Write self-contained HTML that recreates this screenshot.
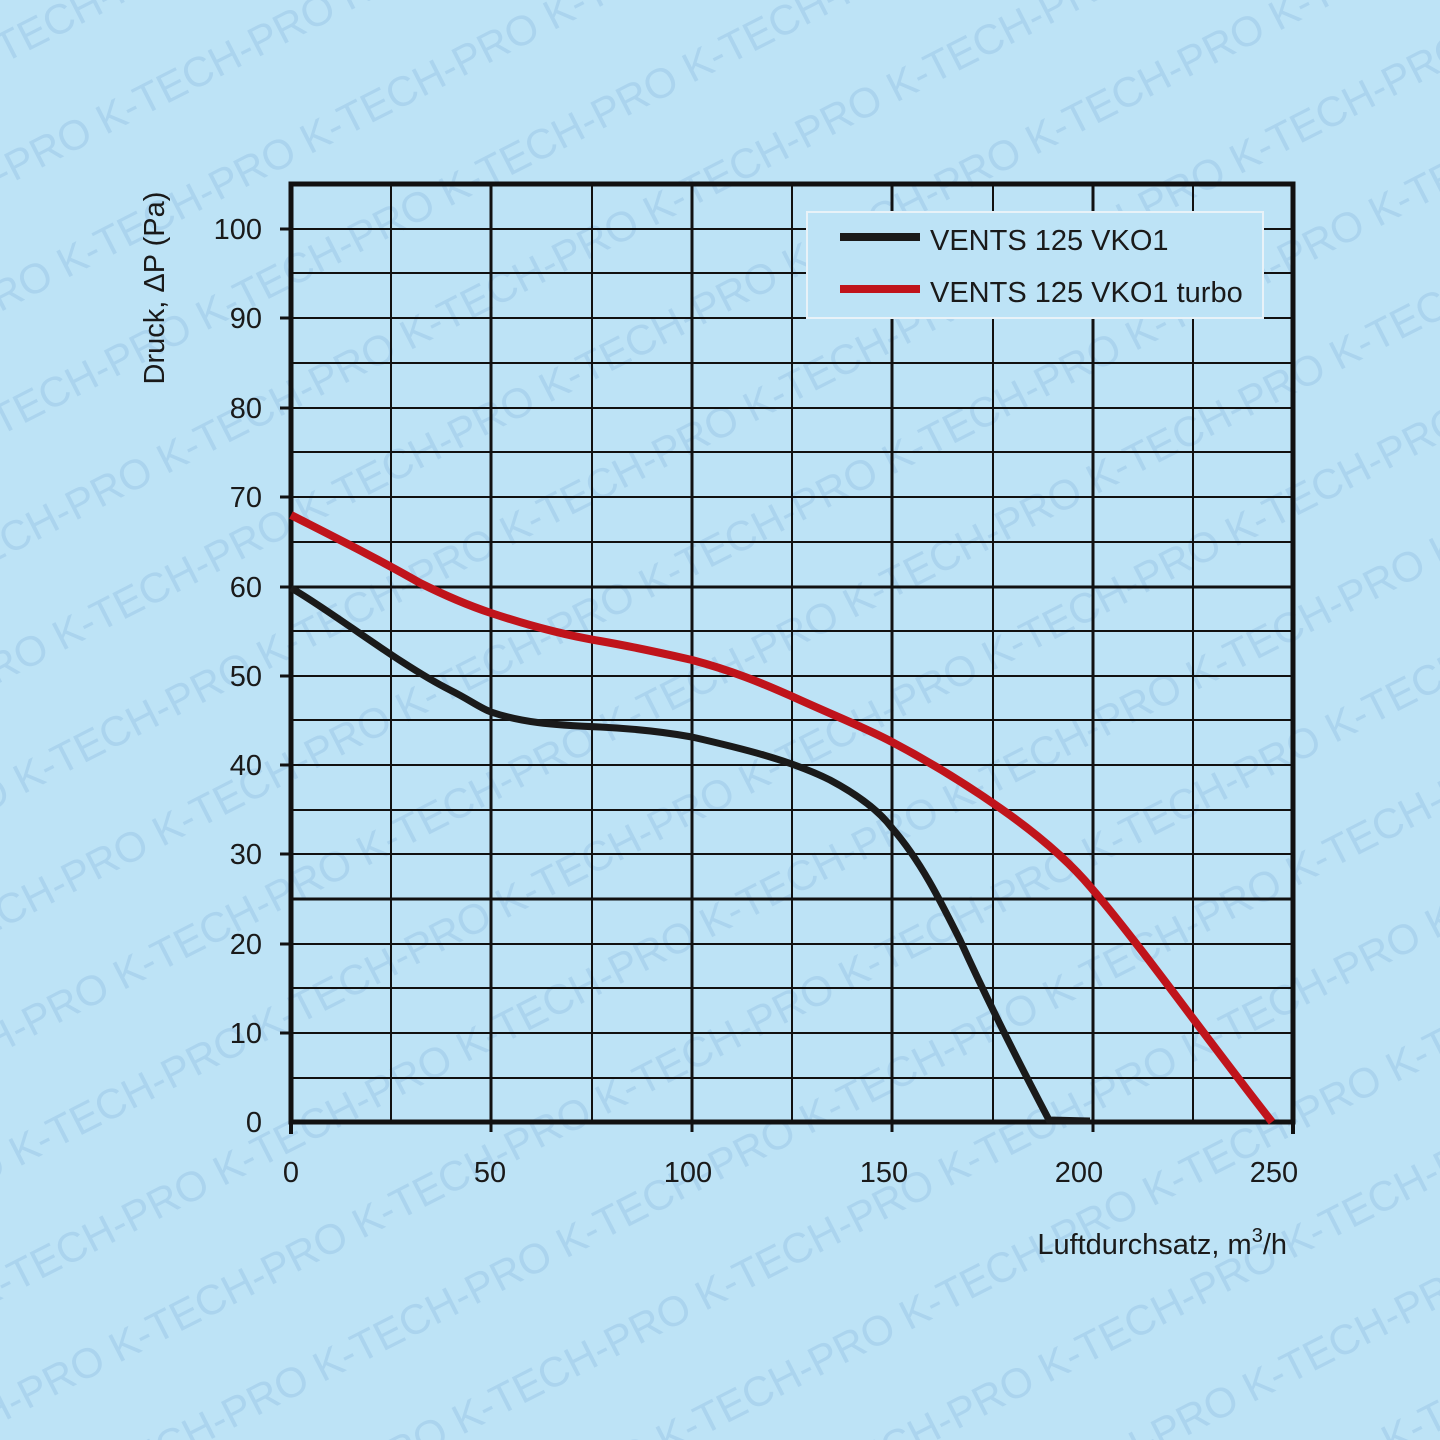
<!DOCTYPE html>
<html><head><meta charset="utf-8"><style>
html,body{margin:0;padding:0;background:#bde3f6;width:1440px;height:1440px;overflow:hidden}
svg{display:block;overflow:hidden}
</style></head><body>
<svg width="1440" height="1440" viewBox="0 0 1440 1440" xmlns="http://www.w3.org/2000/svg" style="position:absolute;left:0;top:0">
<defs><clipPath id="c"><rect width="1440" height="1440"/></clipPath></defs>
<rect width="1440" height="1440" fill="#bde3f6"/>
<g clip-path="url(#c)">
<g fill="#abd4ee" font-family="Liberation Sans, sans-serif" font-size="42" transform="rotate(-27 720 720)">
<text x="-1200" y="-300">K-TECH-PRO K-TECH-PRO K-TECH-PRO K-TECH-PRO K-TECH-PRO K-TECH-PRO K-TECH-PRO K-TECH-PRO K-TECH-PRO K-TECH-PRO K-TECH-PRO</text>
<text x="-1300" y="-190">K-TECH-PRO K-TECH-PRO K-TECH-PRO K-TECH-PRO K-TECH-PRO K-TECH-PRO K-TECH-PRO K-TECH-PRO K-TECH-PRO K-TECH-PRO K-TECH-PRO</text>
<text x="-1200" y="-80">K-TECH-PRO K-TECH-PRO K-TECH-PRO K-TECH-PRO K-TECH-PRO K-TECH-PRO K-TECH-PRO K-TECH-PRO K-TECH-PRO K-TECH-PRO K-TECH-PRO</text>
<text x="-1300" y="30">K-TECH-PRO K-TECH-PRO K-TECH-PRO K-TECH-PRO K-TECH-PRO K-TECH-PRO K-TECH-PRO K-TECH-PRO K-TECH-PRO K-TECH-PRO K-TECH-PRO</text>
<text x="-1200" y="140">K-TECH-PRO K-TECH-PRO K-TECH-PRO K-TECH-PRO K-TECH-PRO K-TECH-PRO K-TECH-PRO K-TECH-PRO K-TECH-PRO K-TECH-PRO K-TECH-PRO</text>
<text x="-1300" y="250">K-TECH-PRO K-TECH-PRO K-TECH-PRO K-TECH-PRO K-TECH-PRO K-TECH-PRO K-TECH-PRO K-TECH-PRO K-TECH-PRO K-TECH-PRO K-TECH-PRO</text>
<text x="-1200" y="360">K-TECH-PRO K-TECH-PRO K-TECH-PRO K-TECH-PRO K-TECH-PRO K-TECH-PRO K-TECH-PRO K-TECH-PRO K-TECH-PRO K-TECH-PRO K-TECH-PRO</text>
<text x="-1300" y="470">K-TECH-PRO K-TECH-PRO K-TECH-PRO K-TECH-PRO K-TECH-PRO K-TECH-PRO K-TECH-PRO K-TECH-PRO K-TECH-PRO K-TECH-PRO K-TECH-PRO</text>
<text x="-1200" y="580">K-TECH-PRO K-TECH-PRO K-TECH-PRO K-TECH-PRO K-TECH-PRO K-TECH-PRO K-TECH-PRO K-TECH-PRO K-TECH-PRO K-TECH-PRO K-TECH-PRO</text>
<text x="-1300" y="690">K-TECH-PRO K-TECH-PRO K-TECH-PRO K-TECH-PRO K-TECH-PRO K-TECH-PRO K-TECH-PRO K-TECH-PRO K-TECH-PRO K-TECH-PRO K-TECH-PRO</text>
<text x="-1200" y="800">K-TECH-PRO K-TECH-PRO K-TECH-PRO K-TECH-PRO K-TECH-PRO K-TECH-PRO K-TECH-PRO K-TECH-PRO K-TECH-PRO K-TECH-PRO K-TECH-PRO</text>
<text x="-1300" y="910">K-TECH-PRO K-TECH-PRO K-TECH-PRO K-TECH-PRO K-TECH-PRO K-TECH-PRO K-TECH-PRO K-TECH-PRO K-TECH-PRO K-TECH-PRO K-TECH-PRO</text>
<text x="-1200" y="1020">K-TECH-PRO K-TECH-PRO K-TECH-PRO K-TECH-PRO K-TECH-PRO K-TECH-PRO K-TECH-PRO K-TECH-PRO K-TECH-PRO K-TECH-PRO K-TECH-PRO</text>
<text x="-1300" y="1130">K-TECH-PRO K-TECH-PRO K-TECH-PRO K-TECH-PRO K-TECH-PRO K-TECH-PRO K-TECH-PRO K-TECH-PRO K-TECH-PRO K-TECH-PRO K-TECH-PRO</text>
<text x="-1200" y="1240">K-TECH-PRO K-TECH-PRO K-TECH-PRO K-TECH-PRO K-TECH-PRO K-TECH-PRO K-TECH-PRO K-TECH-PRO K-TECH-PRO K-TECH-PRO K-TECH-PRO</text>
<text x="-1300" y="1350">K-TECH-PRO K-TECH-PRO K-TECH-PRO K-TECH-PRO K-TECH-PRO K-TECH-PRO K-TECH-PRO K-TECH-PRO K-TECH-PRO K-TECH-PRO K-TECH-PRO</text>
<text x="-1200" y="1460">K-TECH-PRO K-TECH-PRO K-TECH-PRO K-TECH-PRO K-TECH-PRO K-TECH-PRO K-TECH-PRO K-TECH-PRO K-TECH-PRO K-TECH-PRO K-TECH-PRO</text>
<text x="-1300" y="1570">K-TECH-PRO K-TECH-PRO K-TECH-PRO K-TECH-PRO K-TECH-PRO K-TECH-PRO K-TECH-PRO K-TECH-PRO K-TECH-PRO K-TECH-PRO K-TECH-PRO</text>
<text x="-1200" y="1680">K-TECH-PRO K-TECH-PRO K-TECH-PRO K-TECH-PRO K-TECH-PRO K-TECH-PRO K-TECH-PRO K-TECH-PRO K-TECH-PRO K-TECH-PRO K-TECH-PRO</text>
<text x="-1300" y="1790">K-TECH-PRO K-TECH-PRO K-TECH-PRO K-TECH-PRO K-TECH-PRO K-TECH-PRO K-TECH-PRO K-TECH-PRO K-TECH-PRO K-TECH-PRO K-TECH-PRO</text>
</g>
</g>
<g stroke="#111" stroke-width="2">
<line x1="291" y1="229" x2="1293" y2="229"/>
<line x1="291" y1="273" x2="1293" y2="273"/>
<line x1="291" y1="318" x2="1293" y2="318"/>
<line x1="291" y1="363" x2="1293" y2="363"/>
<line x1="291" y1="408" x2="1293" y2="408"/>
<line x1="291" y1="452" x2="1293" y2="452"/>
<line x1="291" y1="497" x2="1293" y2="497"/>
<line x1="291" y1="542" x2="1293" y2="542"/>
<line x1="291" y1="631" x2="1293" y2="631"/>
<line x1="291" y1="676" x2="1293" y2="676"/>
<line x1="291" y1="720" x2="1293" y2="720"/>
<line x1="291" y1="765" x2="1293" y2="765"/>
<line x1="291" y1="810" x2="1293" y2="810"/>
<line x1="291" y1="854" x2="1293" y2="854"/>
<line x1="291" y1="944" x2="1293" y2="944"/>
<line x1="291" y1="988" x2="1293" y2="988"/>
<line x1="291" y1="1033" x2="1293" y2="1033"/>
<line x1="291" y1="1078" x2="1293" y2="1078"/>
<line x1="391" y1="184" x2="391" y2="1122"/>
<line x1="592" y1="184" x2="592" y2="1122"/>
<line x1="792" y1="184" x2="792" y2="1122"/>
<line x1="993" y1="184" x2="993" y2="1122"/>
<line x1="1193" y1="184" x2="1193" y2="1122"/>
</g>
<g stroke="#111" stroke-width="3">
<line x1="291" y1="587" x2="1293" y2="587"/>
<line x1="291" y1="899" x2="1293" y2="899"/>
<line x1="491" y1="184" x2="491" y2="1132"/>
<line x1="692" y1="184" x2="692" y2="1132"/>
<line x1="892" y1="184" x2="892" y2="1132"/>
<line x1="1093" y1="184" x2="1093" y2="1132"/>
<line x1="280" y1="229" x2="291" y2="229"/>
<line x1="280" y1="318" x2="291" y2="318"/>
<line x1="280" y1="408" x2="291" y2="408"/>
<line x1="280" y1="497" x2="291" y2="497"/>
<line x1="280" y1="587" x2="291" y2="587"/>
<line x1="280" y1="676" x2="291" y2="676"/>
<line x1="280" y1="765" x2="291" y2="765"/>
<line x1="280" y1="854" x2="291" y2="854"/>
<line x1="280" y1="944" x2="291" y2="944"/>
<line x1="280" y1="1033" x2="291" y2="1033"/>
</g>
<rect x="291" y="184" width="1002" height="938" fill="none" stroke="#111" stroke-width="5"/>
<line x1="291" y1="1122" x2="291" y2="1134" stroke="#111" stroke-width="4"/>
<line x1="1293" y1="1122" x2="1293" y2="1134" stroke="#111" stroke-width="4"/>
<rect x="807" y="212" width="456" height="106" fill="#bde3f6" stroke="#e8f2f8" stroke-width="2"/>
<line x1="840" y1="237" x2="920" y2="237" stroke="#1a1a1a" stroke-width="8"/>
<line x1="840" y1="289" x2="920" y2="289" stroke="#c0141b" stroke-width="8"/>
<g font-family="Liberation Sans, sans-serif" font-size="29" fill="#1a1a1a">
<text x="930" y="250">VENTS 125 VKO1</text>
<text x="930" y="302">VENTS 125 VKO1 turbo</text>
</g>
<path d="M291,588 C330,610 400,665 450,690 C470,700 480,708 491,712 C520,722 550,725 600,727 C640,729 670,733 692,737 C740,748 790,760 830,780 C860,796 880,812 892,828 C920,860 940,900 960,940 C985,995 1020,1065 1049,1120 L1090,1121" fill="none" stroke="#1a1a1a" stroke-width="7"/>
<path d="M291,515 C340,540 380,560 420,583 C450,598 470,606 491,613 C530,626 570,636 600,641 C640,648 670,655 692,660 C730,670 760,682 800,700 C840,718 870,730 892,742 C930,762 970,787 1000,808 C1040,836 1070,862 1093,890 C1140,945 1200,1030 1272,1122" fill="none" stroke="#c0141b" stroke-width="8"/>
<g font-family="Liberation Sans, sans-serif" font-size="29" fill="#1a1a1a" text-anchor="end">
<text x="262" y="239">100</text>
<text x="262" y="328">90</text>
<text x="262" y="418">80</text>
<text x="262" y="507">70</text>
<text x="262" y="597">60</text>
<text x="262" y="686">50</text>
<text x="262" y="775">40</text>
<text x="262" y="864">30</text>
<text x="262" y="954">20</text>
<text x="262" y="1043">10</text>
<text x="262" y="1132">0</text>
</g>
<g font-family="Liberation Sans, sans-serif" font-size="29" fill="#1a1a1a" text-anchor="middle">
<text x="291" y="1182">0</text>
<text x="490" y="1182">50</text>
<text x="688" y="1182">100</text>
<text x="884" y="1182">150</text>
<text x="1079" y="1182">200</text>
<text x="1274" y="1182">250</text>
<text x="164" y="288" transform="rotate(-90 164 288)">Druck, ΔP (Pa)</text>
</g>
<text x="1287" y="1254" font-family="Liberation Sans, sans-serif" font-size="29" fill="#1a1a1a" text-anchor="end">Luftdurchsatz, m<tspan dy="-12" font-size="20">3</tspan><tspan dy="12">/h</tspan></text>
</svg>
</body></html>
